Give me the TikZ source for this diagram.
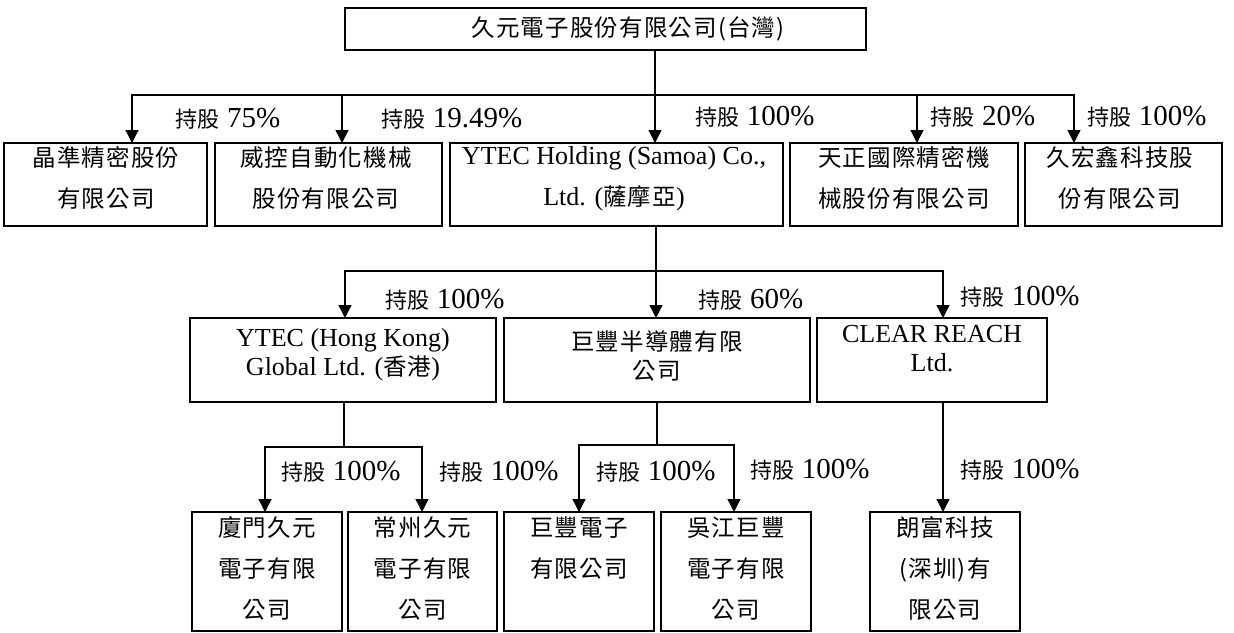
\documentclass[tikz,border=0pt]{standalone}
\usepackage{fontspec}
\setmainfont{Liberation Serif}
\newfontfamily\cjkbox[LetterSpace=5]{Noto Sans CJK TC}
\newfontfamily\cjklab{Noto Sans CJK TC}
\newcommand\zh[1]{{\cjkbox\fontsize{23.5}{\baselineskip}\selectfont #1}}
\newcommand\zl[1]{{\cjklab\fontsize{22}{\baselineskip}\selectfont #1}}
\usetikzlibrary{arrows.meta}
\begin{document}
\begin{tikzpicture}[x=1pt,y=-1pt,
  box/.style={draw, line width=1.3pt, inner sep=0pt, outer sep=0pt},
  txt/.style={align=center, inner sep=0pt, font=\fontsize{26}{41}\selectfont},
  txtb/.style={align=center, inner sep=0pt, font=\fontsize{26}{29}\selectfont},
  lab/.style={inner sep=0pt, font=\fontsize{29}{30}\selectfont},
  line/.style={line width=1.3pt, line join=miter},
  arr/.style={line width=1.3pt, line join=miter, -{Triangle[width=13pt,length=13pt]}}
]
\fill[white] (0,0) rectangle (1234,632);
\useasboundingbox (0,0) rectangle (1234,632);

% top
\node[box, minimum width=521pt, minimum height=42pt] (top) at (605.5,29) {};
\node[txt] (t0) at (628,29) {\zh{久元電子股份有限公司(台灣)}};

% row 1
\node[box, minimum width=203pt, minimum height=83pt] (b1) at (105.5,184.5) {};
\node[box, minimum width=227pt, minimum height=83pt] (b2) at (328.5,184.5) {};
\node[box, minimum width=333pt, minimum height=83pt] (b3) at (616.5,184.5) {};
\node[box, minimum width=228pt, minimum height=83pt] (b4) at (904,184.5) {};
\node[box, minimum width=197pt, minimum height=83pt] (b5) at (1123.5,184.5) {};
\node[txt] (t1) at (106,178.5) {\zh{晶準精密股份}\\\zh{有限公司}};
\node[txt] (t2) at (326,178.5) {\zh{威控自動化機械}\\\zh{股份有限公司}};
\node[txt] (t3) at (614,178.5) {YTEC Holding (Samoa) Co.,\\Ltd. (\zh{薩摩亞})};
\node[txt] (t4) at (904,178.5) {\zh{天正國際精密機}\\\zh{械股份有限公司}};
\node[txt] (t5) at (1120,178.5) {\zh{久宏鑫科技股}\\\zh{份有限公司}};

% row 2
\node[box, minimum width=306pt, minimum height=84pt] (c1) at (343,360) {};
\node[box, minimum width=306pt, minimum height=84pt] (c2) at (657,360) {};
\node[box, minimum width=230pt, minimum height=84pt] (c3) at (932,360) {};
\node[txtb] (t6) at (343,355) {YTEC (Hong Kong)\\Global Ltd. (\zh{香港})};
\node[txtb] (t7) at (657,356) {\zh{巨豐半導體有限}\\\zh{公司}};
\node[txtb] (t8) at (932,349) {CLEAR REACH\\Ltd.};

% row 3
\node[box, minimum width=150pt, minimum height=119pt] (d1) at (267,571.5) {};
\node[box, minimum width=149pt, minimum height=119pt] (d2) at (422.5,571.5) {};
\node[box, minimum width=150pt, minimum height=119pt] (d3) at (579,571.5) {};
\node[box, minimum width=150pt, minimum height=119pt] (d4) at (736,571.5) {};
\node[box, minimum width=150pt, minimum height=119pt] (d5) at (945,571.5) {};
\node[txt] (t9) at (267,568) {\zh{廈門久元}\\\zh{電子有限}\\\zh{公司}};
\node[txt] (t10) at (422.5,568) {\zh{常州久元}\\\zh{電子有限}\\\zh{公司}};
\node[txt] (t11) at (579,548) {\zh{巨豐電子}\\\zh{有限公司}};
\node[txt] (t12) at (736,568) {\zh{吳江巨豐}\\\zh{電子有限}\\\zh{公司}};
\node[txt] (t13) at (945,568) {\zh{朗富科技}\\\zh{(深圳)有}\\\zh{限公司}};

% junction coordinates
\coordinate (j0) at (655,95);
\coordinate (a1) at (132,95);
\coordinate (a2) at (342,95);
\coordinate (a4) at (917,95);
\coordinate (a5) at (1074,95);
\coordinate (k0) at (656,271);
\coordinate (k1) at (345,271);
\coordinate (k3) at (943,271);
\coordinate (m0) at (344,447);
\coordinate (m1) at (265,447);
\coordinate (m2) at (422,447);
\coordinate (n0) at (657,445);
\coordinate (n1) at (579,445);
\coordinate (n2) at (734,445);
\coordinate (p0) at (943,450);

% connectors level 1
\draw[arr] (top.south -| j0) -- (b3.north -| j0);
\draw[arr] (j0) -| (b1.north -| a1);
\draw[arr] (a2) -- (b2.north -| a2);
\draw[arr] (a4) -- (b4.north -| a4);
\draw[arr] (j0) -| (b5.north -| a5);

% level 2
\draw[arr] (b3.south -| k0) -- (c2.north -| k0);
\draw[arr] (k0) -| (c1.north -| k1);
\draw[arr] (k0) -| (c3.north -| k3);

% level 3
\draw[line] (c1.south -| m0) -- (m0);
\draw[arr] (m0) -| (d1.north -| m1);
\draw[arr] (m0) -| (d2.north -| m2);
\draw[line] (c2.south -| n0) -- (n0);
\draw[arr] (n0) -| (d3.north -| n1);
\draw[arr] (n0) -| (d4.north -| n2);
\draw[arr] (c3.south -| p0) -- (d5.north -| p0);

% labels
\node[lab] (l1) at (228,119) {\zl{持股} 75\%};
\node[lab] (l2) at (452,119) {\zl{持股} 19.49\%};
\node[lab] (l3) at (755,117) {\zl{持股} 100\%};
\node[lab] (l4) at (983,117) {\zl{持股} 20\%};
\node[lab] (l5) at (1147,117) {\zl{持股} 100\%};
\node[lab] (l6) at (445,300) {\zl{持股} 100\%};
\node[lab] (l7) at (751,300) {\zl{持股} 60\%};
\node[lab] (l8) at (1020,297) {\zl{持股} 100\%};
\node[lab] (l9) at (341,472) {\zl{持股} 100\%};
\node[lab] (l10) at (499,472) {\zl{持股} 100\%};
\node[lab] (l11) at (656,472) {\zl{持股} 100\%};
\node[lab] (l12) at (810,470) {\zl{持股} 100\%};
\node[lab] (l13) at (1020,470) {\zl{持股} 100\%};
\end{tikzpicture}
\end{document}
